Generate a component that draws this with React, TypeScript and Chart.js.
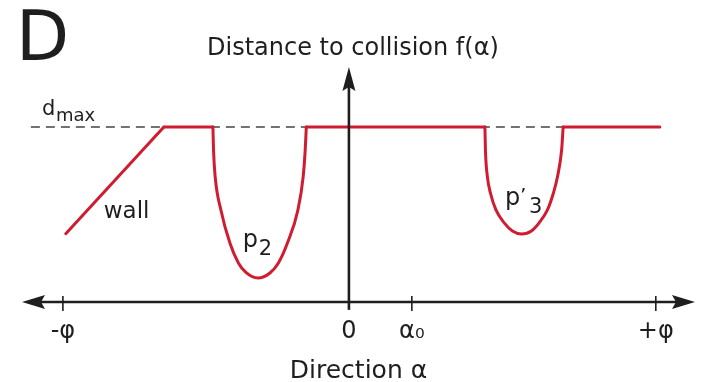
import React, { useEffect, useRef } from 'react';
import { Chart, registerables } from 'chart.js';

Chart.register(...registerables);

const FONT = '"DejaVu Sans", "Liberation Sans", sans-serif';
const INK = '#1e1e1e';
const RED = 'rgb(208, 28, 48)';

// Direction axis (schematic angular units, -φ sits at -100)
const alphaRange = [-114.3, 121.0];
const tickValues = [-100, 0, 22, 107.3];
const tickLabels = ['-φ', '0', 'α₀', '+φ'];
const alphaTitle = 'Direction α';

// Distance axis
const distRange = [-20, 134.3];
const distAxisFoot = -4.5;
const distTitle = 'Distance to collision f(α)';
const dMax = 100;
const dMaxSpan = [-111.2, 108.7];

// Wall: distance grows linearly until it reaches dmax
const wallAlpha = [-99.0, -64.7];
const wallDist = [39.0, 100];

// Free directions (distance clipped at dmax)
const openStart = [-64.7, -14.9, 74.9];
const openEnd = [-47.55, 47.55, 108.7];

// Obstacle p2
const p2Alpha = [-47.55, -47.34, -46.75, -44.76, -41.61, -38.64, -36.01, -31.82, -27.62, -24.65, -21.5, -17.83, -16.01, -15.28, -14.9];
const p2Dist = [100, 86.9, 71.4, 52.6, 33.7, 22.3, 16.9, 13.7, 16.6, 22.3, 33.7, 52.6, 71.4, 86.9, 100];

// Obstacle p'3
const p3Alpha = [47.55, 47.73, 48.43, 49.48, 51.4, 54.37, 57.17, 60.38, 63.8, 66.43, 69.41, 71.5, 72.9, 74.37, 74.9];
const p3Dist = [100, 86.9, 71.4, 62.3, 52.6, 45.1, 40.6, 38.9, 40.6, 45.1, 52.6, 62.3, 71.4, 86.9, 100];

// Curve annotations (anchored in data coordinates)
const wallNote = { alpha: -85.7, dist: 48 };
const p2Note = { alpha: -37.1, dist: 31.4 };
const p3Note = { alpha: 54.6, dist: 55.4 };

const zip = (xs: number[], ys: number[]) => xs.map((x, i) => ({ x, y: ys[i] }));

const openData = openStart.flatMap((s, i) => {
  const pts: { x: number; y: number | null }[] = [
    { x: s, y: dMax },
    { x: openEnd[i], y: dMax },
  ];
  if (i < openStart.length - 1) pts.push({ x: (openEnd[i] + openStart[i + 1]) / 2, y: null });
  return pts;
});

const drawFigure = {
  id: 'drawFigure',
  afterDatasetsDraw(chart: any) {
    const { ctx } = chart;
    const xs = chart.scales.x;
    const ys = chart.scales.y;
    const y0 = ys.getPixelForValue(0);
    const x0 = xs.getPixelForValue(0);
    const xl = xs.getPixelForValue(alphaRange[0]);
    const xr = xs.getPixelForValue(alphaRange[1]);
    const yTop = ys.getPixelForValue(distRange[1]);
    const yFoot = ys.getPixelForValue(distAxisFoot);
    const head = 23;
    const half = 7;

    ctx.save();
    ctx.strokeStyle = INK;
    ctx.fillStyle = INK;
    ctx.lineWidth = 2.6;
    ctx.lineCap = 'butt';

    // horizontal axis with arrowheads on both ends
    ctx.beginPath();
    ctx.moveTo(xl + head - 4, y0);
    ctx.lineTo(xr - head + 4, y0);
    ctx.stroke();
    ctx.beginPath();
    ctx.moveTo(xl, y0);
    ctx.lineTo(xl + head, y0 - half);
    ctx.lineTo(xl + head - 4, y0);
    ctx.lineTo(xl + head, y0 + half);
    ctx.closePath();
    ctx.fill();
    ctx.beginPath();
    ctx.moveTo(xr, y0);
    ctx.lineTo(xr - head, y0 - half);
    ctx.lineTo(xr - head + 4, y0);
    ctx.lineTo(xr - head, y0 + half);
    ctx.closePath();
    ctx.fill();

    // vertical axis
    ctx.beginPath();
    ctx.moveTo(x0, yFoot);
    ctx.lineTo(x0, yTop + head - 4);
    ctx.stroke();
    ctx.beginPath();
    ctx.moveTo(x0, yTop);
    ctx.lineTo(x0 - 6.5, yTop + head + 1);
    ctx.lineTo(x0, yTop + head - 3);
    ctx.lineTo(x0 + 6.5, yTop + head + 1);
    ctx.closePath();
    ctx.fill();

    // tick marks
    ctx.lineWidth = 1.6;
    tickValues.forEach((v) => {
      if (v === 0) return;
      const px = xs.getPixelForValue(v);
      ctx.beginPath();
      ctx.moveTo(px, y0 - 6);
      ctx.lineTo(px, y0 + 9);
      ctx.stroke();
    });
    ctx.restore();
  },
  afterDraw(chart: any) {
    const { ctx, chartArea } = chart;
    const xs = chart.scales.x;
    const ys = chart.scales.y;
    const px = (a: number) => xs.getPixelForValue(a);
    const py = (d: number) => ys.getPixelForValue(d);

    ctx.save();
    ctx.fillStyle = INK;
    ctx.textBaseline = 'alphabetic';
    ctx.textAlign = 'left';

    // panel letter
    ctx.font = `69px ${FONT}`;
    ctx.fillText('D', 16, 60);

    // axis captions
    ctx.textAlign = 'center';
    ctx.font = `24px ${FONT}`;
    ctx.fillText(distTitle, px(0) + 4, 55);
    ctx.font = `25px ${FONT}`;
    ctx.fillText(alphaTitle, (chartArea.left + chartArea.right) / 2, 378);
    ctx.textAlign = 'left';

    // d_max label
    const yd = py(dMax);
    ctx.font = `21px ${FONT}`;
    ctx.fillText('d', 42, yd - 12);
    ctx.font = `18px ${FONT}`;
    ctx.fillText('max', 56, yd - 6);

    // wall
    ctx.font = `23px ${FONT}`;
    ctx.fillText('wall', px(wallNote.alpha), py(wallNote.dist));

    // p2
    ctx.font = `24px ${FONT}`;
    ctx.fillText('p', px(p2Note.alpha), py(p2Note.dist));
    ctx.font = `21px ${FONT}`;
    ctx.fillText('2', px(p2Note.alpha) + 16, py(p2Note.dist) + 8);

    // p'3
    ctx.font = `24px ${FONT}`;
    ctx.fillText('p', px(p3Note.alpha), py(p3Note.dist));
    ctx.font = `20px ${FONT}`;
    ctx.fillText('’', px(p3Note.alpha) + 15, py(p3Note.dist) - 3);
    ctx.font = `21px ${FONT}`;
    ctx.fillText('3', px(p3Note.alpha) + 24, py(p3Note.dist) + 8);

    ctx.restore();
  },
};

export default function App() {
  const canvasRef = useRef<HTMLCanvasElement | null>(null);

  useEffect(() => {
    const canvas = canvasRef.current;
    if (!canvas) return;
    const red = {
      borderColor: RED,
      borderWidth: 3,
      pointRadius: 0,
      borderCapStyle: 'round' as const,
      borderJoinStyle: 'round' as const,
      order: 1,
    };
    const chart = new Chart(canvas, {
      type: 'line',
      data: {
        datasets: [
          {
            label: 'dmax',
            data: [
              { x: dMaxSpan[0], y: dMax },
              { x: dMaxSpan[1], y: dMax },
            ],
            borderColor: '#444',
            borderWidth: 1.6,
            borderDash: [9, 6],
            pointRadius: 0,
            order: 5,
          },
          { label: 'wall', data: zip(wallAlpha, wallDist), ...red },
          { label: 'open', data: openData as any, spanGaps: false, ...red },
          { label: 'p2', data: zip(p2Alpha, p2Dist), cubicInterpolationMode: 'monotone', ...red },
          { label: "p'3", data: zip(p3Alpha, p3Dist), cubicInterpolationMode: 'monotone', ...red },
        ],
      },
      options: {
        animation: false,
        responsive: true,
        maintainAspectRatio: false,
        layout: { padding: { left: 22, right: 7, top: 67, bottom: 45 } },
        plugins: {
          legend: { display: false },
          tooltip: { enabled: false },
          title: { display: false },
        },
        scales: {
          x: {
            type: 'linear',
            position: { y: 0 } as any,
            min: alphaRange[0],
            max: alphaRange[1],
            grid: { display: false },
            border: { display: false },
            afterBuildTicks: (axis: any) => {
              axis.ticks = tickValues.map((v) => ({ value: v }));
            },
            ticks: {
              autoSkip: false,
              maxRotation: 0,
              padding: 7,
              color: INK,
              font: { family: FONT, size: 24 },
              callback: (_v: any, i: number) => tickLabels[i],
            },
          },
          y: {
            type: 'linear',
            display: false,
            min: distRange[0],
            max: distRange[1],
          },
        },
      },
      plugins: [drawFigure],
    });
    return () => chart.destroy();
  }, []);

  return (
    <div style={{ position: 'fixed', left: 0, top: 0, width: 702, height: 382, background: '#fff' }}>
      <canvas ref={canvasRef} />
    </div>
  );
}
